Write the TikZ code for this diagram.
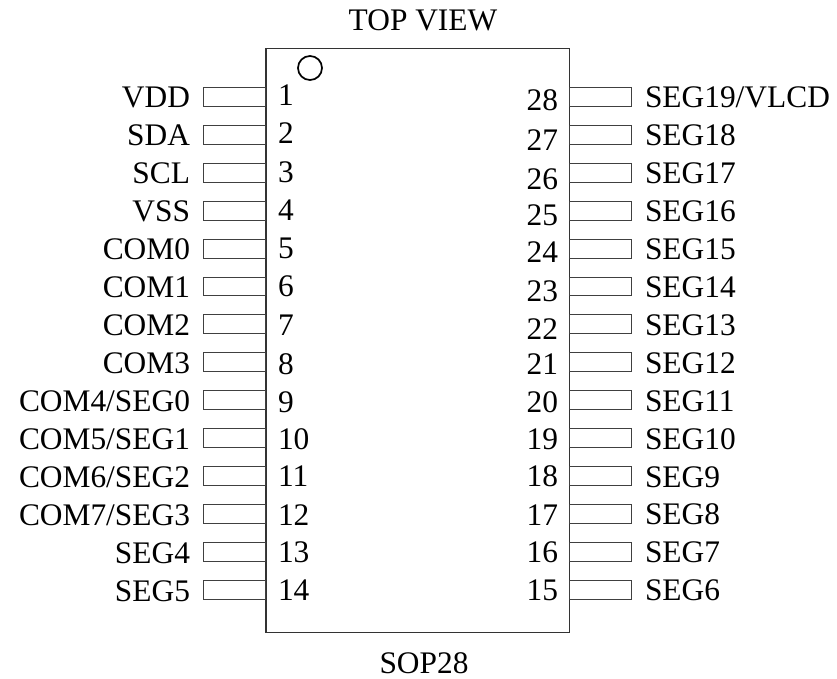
\documentclass[tikz,border=0pt]{standalone}
\usepackage{fontspec}
\setmainfont{Liberation Serif}
\begin{document}
\begin{tikzpicture}[x=1bp,y=-1bp,
  txt/.style={inner sep=0pt,outer sep=0pt,font=\fontsize{31.4bp}{34bp}\selectfont,text=black},
  chipbox/.style={draw=black!80,line width=1.5bp,inner sep=0pt,outer sep=0pt,minimum width=303.5bp,minimum height=584bp},
  pinbox/.style={draw=black!75,line width=1bp,inner sep=0pt,outer sep=0pt,minimum width=62bp,minimum height=18.9bp},
  dot/.style={circle,draw=black,line width=1.7bp,inner sep=0pt,outer sep=0pt,minimum size=24bp}]
\useasboundingbox (0,0) rectangle (837,679);
\node[chipbox] (chip) at (417.5,340.5) {};
\node[dot] (mark1) at (310,68) {};
\node[txt,anchor=base] (top) at (423,30.7) {TOP VIEW};
\node[txt,anchor=base] (pkg) at (424,673) {SOP28};
\foreach \n/\t/\yn in {1/VDD/106,2/SDA/144,3/SCL/182,4/VSS/220,5/COM0/258.3,6/COM1/296.7,7/COM2/335.7,8/COM3/374,9/{COM4/SEG0}/412.7,10/{COM5/SEG1}/449,11/{COM6/SEG2}/486.7,12/{COM7/SEG3}/525,13/SEG4/562,14/SEG5/600}{
  \pgfmathsetmacro{\yy}{97+(\n-1)*37.9}
  \pgfmathsetmacro{\yl}{107.3+(\n-1)*38}
  \node[pinbox] (L\n) at (234.5,\yy) {};
  \node[txt,anchor=base east] (LT\n) at (190,\yl) {\t};
  \node[txt,anchor=base west] (LN\n) at (278,\yn) {\n};
}
\foreach \n/\t/\yn in {28/{SEG19/VLCD}/110.7,27/SEG18/150.7,26/SEG17/189,25/SEG16/225.7,24/SEG15/262.7,23/SEG14/301,22/SEG13/339,21/SEG12/374.3,20/SEG11/412.7,19/SEG10/449,18/SEG9/486.7,17/SEG8/525,16/SEG7/562,15/SEG6/600}{
  \pgfmathsetmacro{\yy}{97+(28-\n)*37.9}
  \pgfmathsetmacro{\yl}{108+(28-\n)*37.9}
  \node[pinbox] (R\n) at (600,\yy) {};
  \node[txt,anchor=base west] (RT\n) at (645,\yl) {\t};
  \node[txt,anchor=base east] (RN\n) at (558,\yn) {\n};
}
\end{tikzpicture}
\end{document}
